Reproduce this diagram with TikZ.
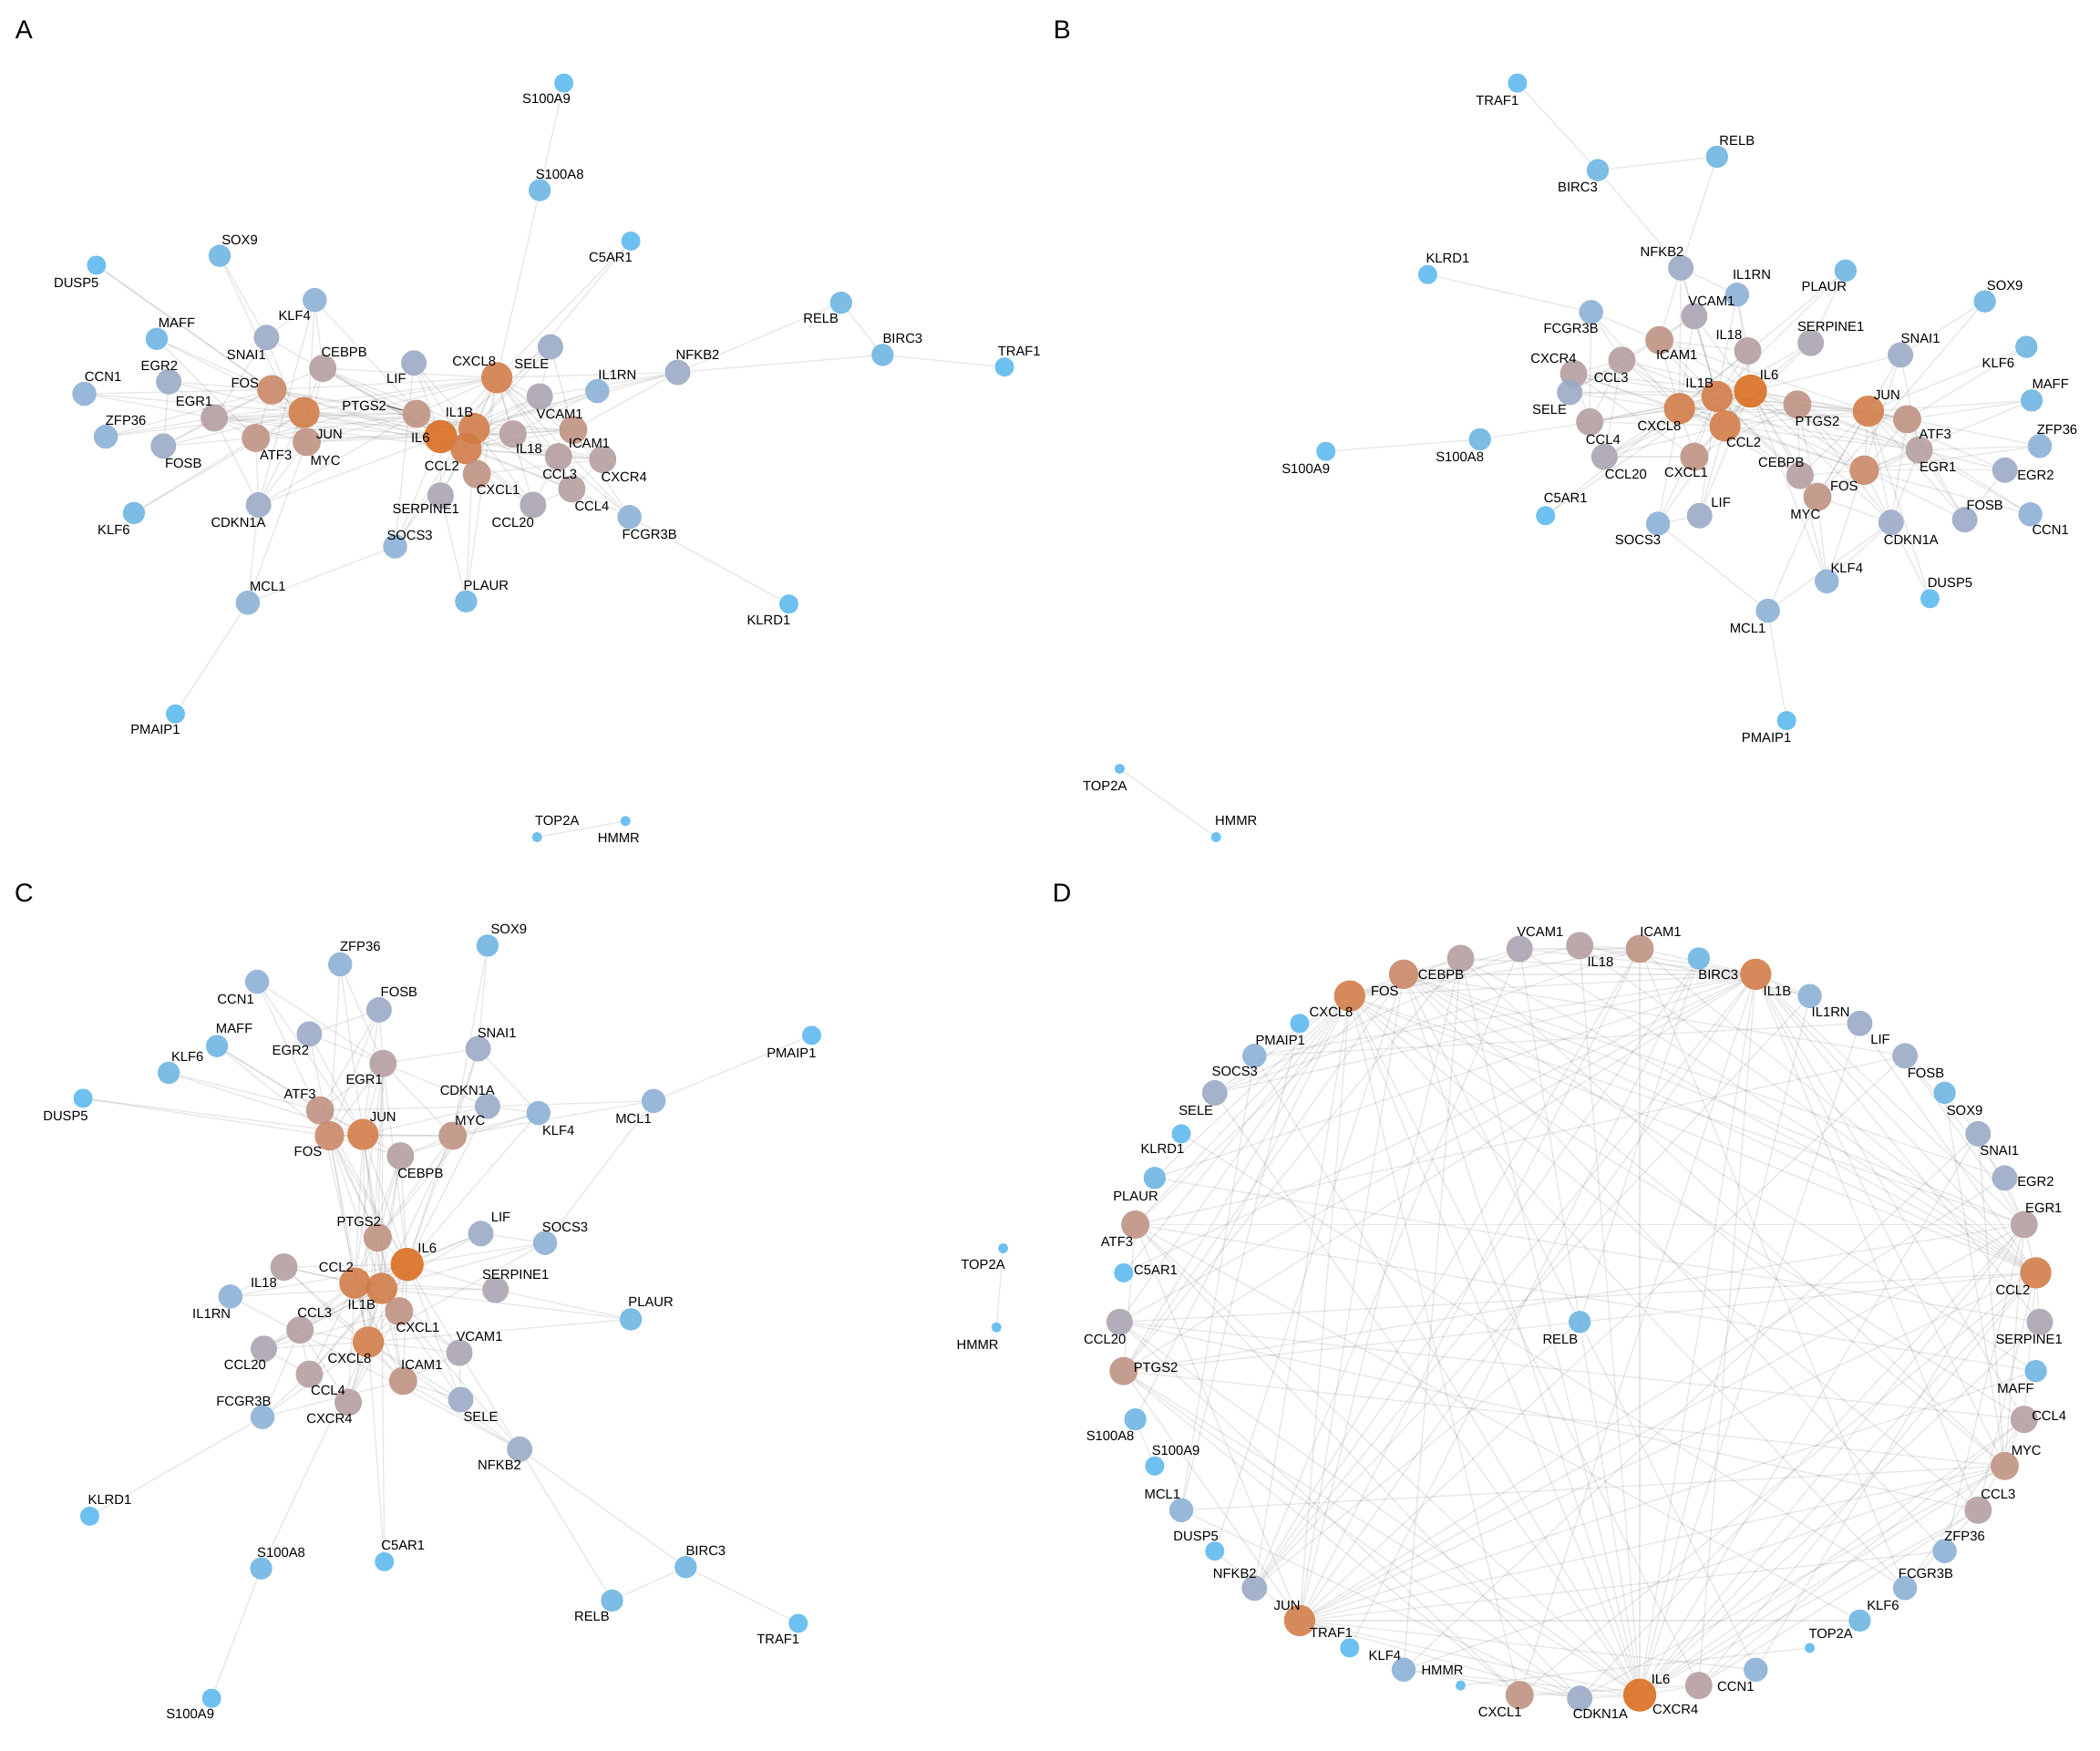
\documentclass[tikz,border=0pt]{standalone}
\usepackage{fontspec}
\setmainfont{Liberation Sans}
\pgfdeclarelayer{background}
\pgfdeclarelayer{front}
\pgfsetlayers{background,main,front}
\definecolor{c0}{HTML}{5AB8EE}
\definecolor{c1}{HTML}{6AB3E2}
\definecolor{c2}{HTML}{8AAFD6}
\definecolor{c3}{HTML}{99A8C6}
\definecolor{c4}{HTML}{A9A2B0}
\definecolor{c5}{HTML}{B39C9E}
\definecolor{c6}{HTML}{BE9080}
\definecolor{c7}{HTML}{C98565}
\definecolor{c8}{HTML}{D17A45}
\definecolor{c9}{HTML}{D96A1C}
\tikzset{
  gene/.style={circle, inner sep=0pt, draw=none, fill opacity=0.88},
  lv0/.style={gene, fill=c0, minimum size=2.3mm},
  lvx/.style={gene, fill=c0, minimum size=4.3mm},
  lv1/.style={gene, fill=c1, minimum size=5mm},
  lv2/.style={gene, fill=c2, minimum size=5.4mm},
  lv3/.style={gene, fill=c3, minimum size=5.7mm},
  lv4/.style={gene, fill=c4, minimum size=5.9mm},
  lv5/.style={gene, fill=c5, minimum size=6.1mm},
  lv6/.style={gene, fill=c6, minimum size=6.3mm},
  lv7/.style={gene, fill=c7, minimum size=6.6mm},
  lv8/.style={gene, fill=c8, minimum size=7mm},
  lv9/.style={gene, fill=c9, minimum size=7.4mm},
  lbl/.style={inner sep=0pt, font=\fontsize{8.6}{10}\selectfont},
  tag/.style={inner sep=0pt, font=\fontsize{16.5}{18}\selectfont},
  ppi/.style={draw=black!45, opacity=0.2, line width=0.8pt},
  seg/.style={draw=black!55, line width=0.9pt},
  % degree level of every gene
  g-IL6/.style={lv9}, g-IL1B/.style={lv8}, g-CXCL8/.style={lv8}, g-CCL2/.style={lv8},
  g-JUN/.style={lv8}, g-FOS/.style={lv7}, g-ATF3/.style={lv6}, g-MYC/.style={lv6},
  g-PTGS2/.style={lv6}, g-ICAM1/.style={lv6}, g-CXCL1/.style={lv6}, g-EGR1/.style={lv5},
  g-CEBPB/.style={lv5}, g-IL18/.style={lv5}, g-CCL3/.style={lv5}, g-CXCR4/.style={lv5},
  g-CCL4/.style={lv5}, g-VCAM1/.style={lv4}, g-CCL20/.style={lv4}, g-SERPINE1/.style={lv4},
  g-LIF/.style={lv3}, g-EGR2/.style={lv3}, g-FOSB/.style={lv3}, g-CDKN1A/.style={lv3},
  g-NFKB2/.style={lv3}, g-SELE/.style={lv3}, g-SNAI1/.style={lv3}, g-IL1RN/.style={lv2},
  g-FCGR3B/.style={lv2}, g-KLF4/.style={lv2}, g-ZFP36/.style={lv2}, g-MCL1/.style={lv2},
  g-SOCS3/.style={lv2}, g-CCN1/.style={lv2}, g-SOX9/.style={lv1}, g-DUSP5/.style={lvx},
  g-MAFF/.style={lv1}, g-KLF6/.style={lv1}, g-PMAIP1/.style={lvx}, g-S100A9/.style={lvx},
  g-S100A8/.style={lv1}, g-C5AR1/.style={lvx}, g-RELB/.style={lv1}, g-BIRC3/.style={lv1},
  g-TRAF1/.style={lvx}, g-KLRD1/.style={lvx}, g-PLAUR/.style={lv1}, g-TOP2A/.style={lv0},
  g-HMMR/.style={lv0}
}
% interactions, the same in every panel
\def\ppilist{S100A9/S100A8, S100A8/CXCL8, C5AR1/CXCL8, C5AR1/IL1B, RELB/NFKB2, RELB/BIRC3,
  NFKB2/BIRC3, BIRC3/TRAF1, NFKB2/ICAM1, NFKB2/VCAM1, NFKB2/CXCL8, NFKB2/IL1B, NFKB2/IL1RN,
  KLRD1/FCGR3B, PMAIP1/MCL1, MCL1/CDKN1A, MCL1/SOCS3, MCL1/MYC, PLAUR/SERPINE1, PLAUR/IL1B,
  PLAUR/CXCL8, TOP2A/HMMR, SOX9/SNAI1, SOX9/MYC, DUSP5/FOS, DUSP5/JUN, KLF6/JUN, KLF6/ATF3,
  MAFF/FOS, MAFF/JUN, MAFF/ATF3, CCN1/FOS, CCN1/JUN, CCN1/EGR1, ZFP36/FOS, ZFP36/JUN,
  ZFP36/EGR1, FOSB/JUN, FOSB/FOS, FOSB/EGR1, FOSB/ATF3, FOSB/EGR2, EGR2/EGR1, EGR2/JUN,
  EGR2/FOS, EGR1/FOS, EGR1/JUN, EGR1/ATF3, EGR1/MYC, EGR1/CDKN1A, EGR1/SNAI1, ATF3/JUN,
  ATF3/FOS, ATF3/CDKN1A, FOS/JUN, FOS/MYC, FOS/IL6, FOS/CEBPB, FOS/PTGS2, JUN/MYC, JUN/IL6,
  JUN/CEBPB, JUN/CDKN1A, JUN/PTGS2, JUN/CXCL8, JUN/CCL2, JUN/IL1B, JUN/ICAM1, MYC/CDKN1A,
  MYC/IL6, MYC/CEBPB, MYC/KLF4, MYC/SNAI1, KLF4/CDKN1A, KLF4/SNAI1, KLF4/CEBPB, KLF4/IL6,
  CEBPB/IL6, CEBPB/IL1B, CEBPB/CXCL8, CEBPB/PTGS2, LIF/IL6, LIF/SOCS3, LIF/IL1B, LIF/CCL2,
  SOCS3/IL6, SOCS3/IL1B, SOCS3/CXCL8, IL6/IL1B, IL6/CXCL8, IL6/CCL2, IL6/PTGS2, IL6/ICAM1,
  IL6/VCAM1, IL6/SERPINE1, IL6/CXCL1, IL6/CCL3, IL6/CCL4, IL6/CCL20, IL6/CXCR4, IL6/IL18,
  IL6/SELE, IL6/IL1RN, IL6/CDKN1A, IL6/EGR1, IL6/ATF3, IL6/SNAI1, IL1B/CXCL8, IL1B/CCL2,
  IL1B/PTGS2, IL1B/ICAM1, IL1B/VCAM1, IL1B/CXCL1, IL1B/CCL3, IL1B/CCL4, IL1B/CCL20,
  IL1B/IL18, IL1B/IL1RN, IL1B/SELE, IL1B/SERPINE1, IL1B/CXCR4, IL1B/FOS, IL1B/EGR1,
  IL1B/MYC, CXCL8/CCL2, CXCL8/CXCL1, CXCL8/CCL3, CXCL8/CCL4, CXCL8/CCL20, CXCL8/CXCR4,
  CXCL8/ICAM1, CXCL8/VCAM1, CXCL8/PTGS2, CXCL8/SELE, CXCL8/IL18, CXCL8/FCGR3B, CXCL8/FOS,
  CXCL8/EGR1, CXCL8/ATF3, CCL2/CXCL1, CCL2/CCL3, CCL2/CCL4, CCL2/CCL20, CCL2/ICAM1,
  CCL2/VCAM1, CCL2/PTGS2, CCL2/CXCR4, CCL2/SERPINE1, CCL2/IL18, CCL2/FOS, CCL2/EGR1,
  CCL2/CEBPB, PTGS2/EGR1, PTGS2/ATF3, PTGS2/MYC, PTGS2/CDKN1A, ICAM1/VCAM1, ICAM1/SELE,
  ICAM1/IL18, ICAM1/FCGR3B, VCAM1/SELE, CCL3/CCL4, CCL3/CXCR4, CCL3/CCL20, CCL4/CXCR4,
  CCL4/CCL20, CCL20/CXCL1, CXCL1/CXCR4, CCL3/FCGR3B, CCL4/FCGR3B, PTGS2/CXCL1, IL18/IL1RN}
\begin{document}
\begin{tikzpicture}[x=0.03cm, y=-0.03cm]
\useasboundingbox (0,0) rectangle (1568,1307);
\begin{pgfonlayer}{background}
  \fill[white] (0,0) rectangle (1568,1307);
\end{pgfonlayer}
\node[tag] (tagA) at (18,22) {A};
\node[tag] (tagB) at (793,22) {B};
\node[tag] (tagC) at (18,667) {C};
\node[tag] (tagD) at (793,667) {D};
% A
\foreach \g/\x/\y/\lx/\ly in {SOX9/164/191/179/179, DUSP5/72/198/57/211, MAFF/117/253/132/241,
  KLF4/235/224/220/236, SNAI1/199/252/184/265, CEBPB/241/275/257/263, LIF/309/271/296/283,
  EGR2/126/285/119/273, CCN1/63/294/77/281, FOS/203/291/183/286, JUN/227/308/246/324,
  EGR1/160/312/145/300, PTGS2/311/309/272/303, ZFP36/79/326/94/314, ATF3/191/327/206/340,
  MYC/229/330/243/344, FOSB/122/333/137/346, CDKN1A/193/377/178/390, KLF6/100/383/85/396,
  SOCS3/295/408/306/400, MCL1/185/450/200/438, SELE/411/259/397/272, CXCL8/371/282/354/270,
  NFKB2/506/278/521/265, IL1RN/446/292/461/280, VCAM1/403/296/418/309, IL1B/354/320/343/308,
  IL6/329/326/314/327, IL18/383/324/395/335, ICAM1/428/321/440/331, CCL2/348/335/330/348,
  CCL3/417/341/418/354, CXCR4/450/343/466/356, CXCL1/356/354/372/366, SERPINE1/329/370/318/380,
  CCL20/398/377/383/390, CCL4/427/365/442/378, FCGR3B/470/386/485/399, S100A9/421/62/408/74,
  S100A8/403/142/418/130, C5AR1/471/180/456/192, RELB/628/226/613/238, BIRC3/659/265/674/253,
  TRAF1/750/274/761/262, KLRD1/589/451/574/463, PLAUR/348/449/363/437, PMAIP1/131/533/116/545,
  TOP2A/401/625/416/613, HMMR/467/613/462/626}{
  \node[g-\g] (A-\g) at (\x,\y) {};
  \begin{pgfonlayer}{front}\node[lbl] (A-\g-t) at (\lx,\ly) {\g};\end{pgfonlayer}
}
\draw[seg] (A-PTGS2-t.east) -- (A-PTGS2);
% B
\foreach \g/\x/\y/\lx/\ly in {NFKB2/1255/200/1241/188, IL1RN/1297/220/1308/205,
  PLAUR/1378/202/1362/214, VCAM1/1265/236/1278/225, FCGR3B/1188/233/1173/245,
  ICAM1/1239/254/1252/265, IL18/1305/262/1291/250, SERPINE1/1352/256/1367/244,
  SNAI1/1419/265/1434/253, CCL3/1211/269/1203/282, CXCR4/1175/279/1160/268,
  SELE/1172/293/1157/306, IL1B/1282/296/1269/286, IL6/1307/292/1321/280,
  CXCL8/1254/305/1239/318, PTGS2/1342/302/1357/315, JUN/1395/307/1409/295,
  ATF3/1424/313/1445/324, CCL4/1187/315/1197/328, CCL2/1288/318/1302/330,
  EGR1/1433/336/1447/349, CCL20/1198/341/1214/354, CXCL1/1265/341/1259/353,
  CEBPB/1344/355/1330/345, FOS/1392/351/1377/363, MYC/1357/371/1348/384,
  C5AR1/1154/385/1169/372, LIF/1269/385/1285/375, SOCS3/1238/391/1223/403,
  CDKN1A/1412/390/1427/403, KLF4/1364/434/1379/424, TRAF1/1133/62/1118/75,
  RELB/1282/117/1297/105, BIRC3/1193/127/1178/140, KLRD1/1066/205/1081/193,
  SOX9/1482/225/1497/213, KLF6/1513/259/1492/271, MAFF/1517/299/1531/287,
  ZFP36/1523/333/1536/321, EGR2/1497/351/1520/355, FOSB/1467/388/1482/377,
  CCN1/1516/384/1531/396, S100A9/990/337/975/350, S100A8/1105/328/1090/341,
  DUSP5/1441/447/1456/435, MCL1/1320/456/1305/469, PMAIP1/1334/538/1319/551,
  TOP2A/836/574/825/587, HMMR/908/625/923/613}{
  \node[g-\g] (B-\g) at (\x,\y) {};
  \begin{pgfonlayer}{front}\node[lbl] (B-\g-t) at (\lx,\ly) {\g};\end{pgfonlayer}
}
% C
\foreach \g/\x/\y/\lx/\ly in {SOX9/364/706/380/694, ZFP36/254/720/269/707, CCN1/192/733/176/746,
  FOSB/283/754/298/741, MAFF/162/781/175/768, EGR2/231/772/217/784, SNAI1/357/783/371/771,
  KLF6/126/801/140/789, EGR1/286/794/272/806, ATF3/239/829/224/817, CDKN1A/364/826/349/814,
  KLF4/402/831/417/844, FOS/246/848/230/860, JUN/271/847/286/834, MYC/338/848/351/837,
  CEBPB/299/863/314/876, PTGS2/282/924/268/912, LIF/359/921/374/909, SOCS3/407/928/422/916,
  IL6/304/944/319/932, IL18/212/946/197/958, CCL2/265/958/251/946, IL1B/285/962/270/974,
  SERPINE1/370/963/385/952, IL1RN/172/968/158/981, CXCL1/298/979/312/991, CCL3/224/993/235/980,
  CXCL8/275/1002/261/1014, VCAM1/343/1010/358/998, CCL20/197/1007/183/1019,
  CCL4/231/1026/245/1038, ICAM1/301/1031/315/1019, SELE/344/1045/359/1058,
  FCGR3B/196/1058/182/1046, CXCR4/260/1047/246/1059, NFKB2/388/1082/373/1094,
  DUSP5/62/820/49/833, PMAIP1/606/773/591/786, MCL1/488/822/473/835, PLAUR/471/985/486/972,
  KLRD1/67/1132/82/1120, S100A8/195/1171/210/1159, C5AR1/287/1166/301/1154,
  BIRC3/512/1170/527/1158, RELB/457/1195/442/1207, TRAF1/596/1212/581/1224,
  S100A9/158/1268/142/1280, TOP2A/749/932/734/944, HMMR/744/991/730/1004}{
  \node[g-\g] (C-\g) at (\x,\y) {};
  \begin{pgfonlayer}{front}\node[lbl] (C-\g-t) at (\lx,\ly) {\g};\end{pgfonlayer}
}
% D, circle layout
\def\cx{1179.5} \def\cy{987} \def\rx{343.5} \def\ry{281}
\foreach \g [count=\k from 0] in {IL18, ICAM1, BIRC3, IL1B, IL1RN, LIF, FOSB, SOX9, SNAI1, EGR2,
  EGR1, CCL2, SERPINE1, MAFF, CCL4, MYC, CCL3, ZFP36, FCGR3B, KLF6, TOP2A, CCN1, CXCR4, IL6,
  CDKN1A, CXCL1, HMMR, KLF4, TRAF1, JUN, NFKB2, DUSP5, MCL1, S100A9, S100A8, PTGS2, CCL20,
  C5AR1, ATF3, PLAUR, KLRD1, SELE, SOCS3, PMAIP1, CXCL8, FOS, CEBPB, VCAM1}
  \node[g-\g] (D-\g) at ({\cx+\rx*cos(90-7.5*\k)},{\cy-\ry*sin(90-7.5*\k)}) {};
\node[g-RELB] (D-RELB) at (\cx,\cy) {};
\begin{pgfonlayer}{front}
\foreach \g/\lx/\ly in {VCAM1/1150/696, IL18/1195/718, ICAM1/1240/696, BIRC3/1283/728,
  IL1B/1327/740, IL1RN/1367/756, LIF/1404/776, FOSB/1438/801, SOX9/1467/829, SNAI1/1493/859,
  EGR2/1520/882, EGR1/1526/902, CCL2/1503/963, SERPINE1/1515/1000, MAFF/1505/1037,
  CCL4/1530/1057, MYC/1513/1083, CCL3/1492/1116, ZFP36/1467/1147, FCGR3B/1438/1175,
  KLF6/1406/1199, TOP2A/1367/1220, CCN1/1296/1259, CXCR4/1251/1276, IL6/1240/1254,
  CDKN1A/1195/1280, CXCL1/1120/1278, HMMR/1077/1247, KLF4/1034/1236, TRAF1/994/1219,
  JUN/961/1199, NFKB2/922/1175, DUSP5/893/1147, MCL1/868/1116, S100A9/878/1083,
  S100A8/829/1072, PTGS2/863/1021, CCL20/825/1000, C5AR1/863/948, ATF3/834/927,
  PLAUR/848/893, KLRD1/868/858, SELE/893/829, SOCS3/922/800, PMAIP1/956/777,
  CXCL8/994/756, FOS/1034/740, CEBPB/1076/728, RELB/1165/1000}
  \node[lbl] (D-\g-t) at (\lx,\ly) {\g};
\end{pgfonlayer}
% edges behind the nodes
\begin{pgfonlayer}{background}
\foreach \p in {A,B,C,D}
  \foreach \u/\v in \ppilist
    \draw[ppi] (\p-\u) -- (\p-\v);
\end{pgfonlayer}
\end{tikzpicture}
\end{document}
